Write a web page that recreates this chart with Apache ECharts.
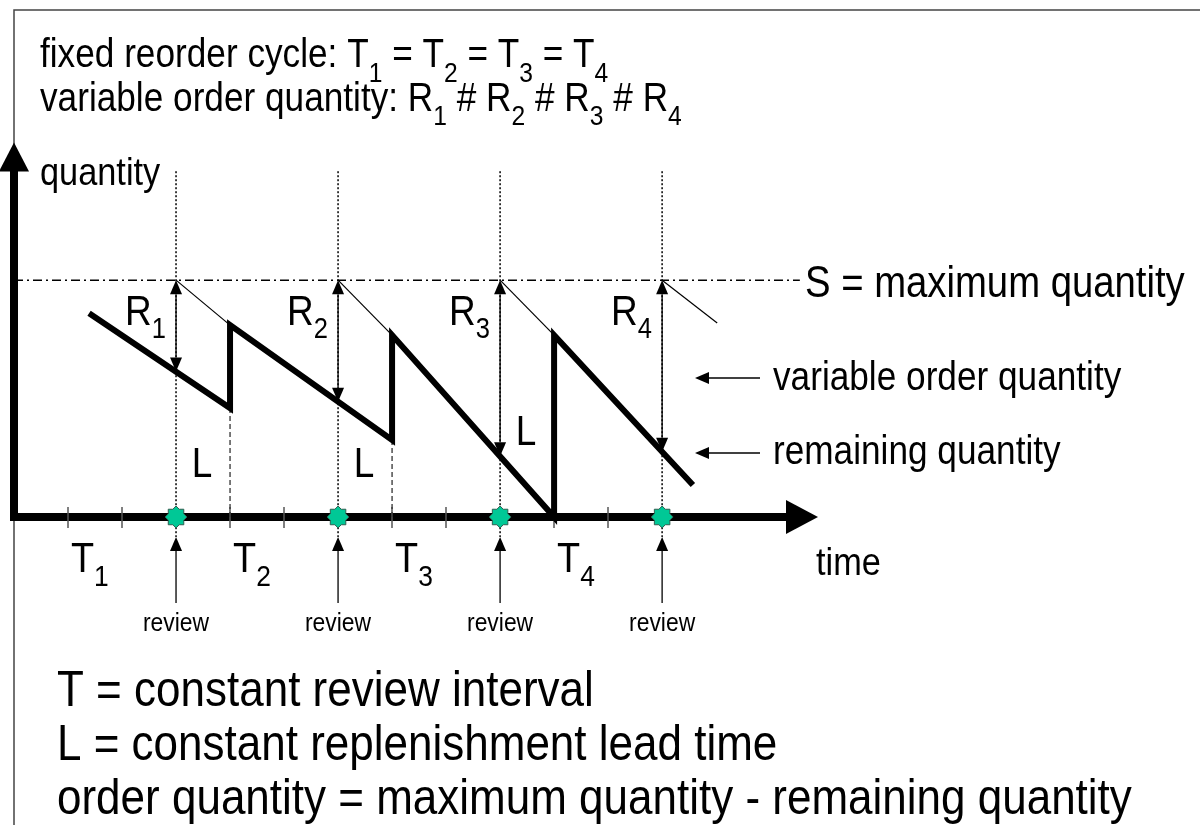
<!DOCTYPE html>
<html>
<head>
<meta charset="utf-8">
<title>fixed reorder cycle</title>
<script src="https://cdn.jsdelivr.net/npm/echarts@6/dist/echarts.min.js"></script>
<style>
  html, body { margin: 0; padding: 0; background: #fff; }
  #main { width: 1200px; height: 825px; }
</style>
</head>
<body>
<div id="main"></div>
<script>
// time axis: one unit = one tick
const tickTimes = [1, 2, 4, 5, 7, 8, 10, 11];
const reviewTimes = [3, 6, 9, 12];
const arrivalTimes = [4, 7];
const arrivalLevel = [46, 32.5];          // stock just before delivery
const maxQty = 100;                       // S
const stockTimes = [1.39, 4, 4, 7, 7, 10, 10, 12.57];
const stockQty = [86, 46, 81, 32.5, 76.8, 0, 76.8, 13.5];
const reviewLevel = [61.4, 48.7, 25.6, 27.5];   // remaining quantity at review
const projEnd = [[4, 81], [7, 76.8], [10, 76.8], [13.02, 81.9]];
const cycleNames = ['1', '2', '3', '4'];
const cycleLabelTimes = [1, 4, 7, 10];

const xMax = 14.59, yMax = 152, sLineEnd = 14.55, reviewTop = 146;
const FONT = '"Liberation Sans", Arial, sans-serif';
const SX = 0.88;
const STAR = 'path://M10 0L12.91 2.98L17.07 2.93L17.02 7.09L20 10L17.02 12.91L17.07 17.07L12.91 17.02L10 20L7.09 17.02L2.93 17.07L2.98 12.91L0 10L2.98 7.09L2.93 2.93L7.09 2.98Z';

var chart = echarts.init(document.getElementById('main'));

function axisBase(extra) {
  return Object.assign({
    type: 'value', min: 0, interval: 1,
    axisLabel: { show: false }, splitLine: { show: false }
  }, extra);
}

var option = {
  animation: false,
  backgroundColor: '#fff',
  grid: { left: 14, top: 157, width: 788, height: 360 },
  xAxis: [
    axisBase({
      max: xMax, position: 'bottom',
      axisLine: { show: true, onZero: false, symbol: ['none', 'triangle'], symbolSize: [34, 32],
        lineStyle: { color: '#000', width: 8, cap: 'square' } },
      axisTick: { show: true, customValues: tickTimes, length: 11, lineStyle: { color: '#555', width: 1.5 } }
    }),
    axisBase({
      max: xMax, position: 'bottom',
      axisLine: { show: false, onZero: false },
      axisTick: { show: true, inside: true, customValues: tickTimes, length: 10, lineStyle: { color: '#555', width: 1.5 } }
    })
  ],
  yAxis: axisBase({
    max: yMax, interval: 50,
    axisLine: { show: true, onZero: false, symbol: ['none', 'triangle'], symbolSize: [30, 29],
      lineStyle: { color: '#000', width: 8, cap: 'square' } },
    axisTick: { show: false }
  }),
  series: [
    {
      // S = maximum quantity
      type: 'line', data: [[0, maxQty], [sLineEnd, maxQty]], symbol: 'none', clip: false, silent: true, z: 2,
      lineStyle: { color: '#000', width: 1.5, type: [9, 4, 2, 4] }
    },
    {
      // dashed lines at deliveries
      type: 'custom', data: arrivalTimes.map((t, i) => [t, arrivalLevel[i]]), silent: true, z: 2,
      renderItem: function (params, api) {
        const p = api.coord([api.value(0), api.value(1)]);
        const b = api.coord([api.value(0), 0]);
        return { type: 'line', shape: { x1: p[0], y1: p[1], x2: b[0], y2: b[1] },
          style: { stroke: '#333', lineWidth: 1.3, lineDash: [5, 3] } };
      }
    },
    {
      // thin lines S -> delivery
      type: 'lines', coordinateSystem: 'cartesian2d', silent: true, z: 3,
      data: reviewTimes.map((t, i) => ({ coords: [[t, maxQty], projEnd[i]] })),
      lineStyle: { color: '#000', width: 1.2, opacity: 1 }
    },
    {
      // stock level
      type: 'line', data: stockTimes.map((t, i) => [t, stockQty[i]]), symbol: 'none', clip: false, silent: true, z: 5,
      lineStyle: { color: '#000', width: 6, join: 'miter' }
    },
    {
      // review lines, R arrows, review arrows
      type: 'custom', data: reviewTimes.map((t, i) => [t, maxQty, reviewLevel[i]]),
      encode: { x: 0, y: [1, 2] }, silent: true, z: 6,
      renderItem: function (params, api) {
        const s = api.coord([api.value(0), api.value(1)]);
        const r = api.coord([api.value(0), api.value(2)]);
        const top = api.coord([api.value(0), reviewTop]);
        const b = api.coord([api.value(0), 0]);
        const x = s[0], h = 14, w = 12;
        return { type: 'group', children: [
          { type: 'line', shape: { x1: x, y1: top[1], x2: x, y2: b[1] + 20 },
            style: { stroke: '#000', lineWidth: 1.5, lineDash: [2, 2] } },
          { type: 'line', shape: { x1: x, y1: s[1] + h, x2: x, y2: r[1] - h },
            style: { stroke: '#000', lineWidth: 1.3 } },
          { type: 'polygon', shape: { points: [[x, s[1]], [x - w / 2, s[1] + h], [x + w / 2, s[1] + h]] },
            style: { fill: '#000' } },
          { type: 'polygon', shape: { points: [[x, r[1]], [x - w / 2, r[1] - h], [x + w / 2, r[1] - h]] },
            style: { fill: '#000' } },
          { type: 'line', shape: { x1: x, y1: b[1] + 33, x2: x, y2: b[1] + 86 },
            style: { stroke: '#000', lineWidth: 1.3 } },
          { type: 'polygon', shape: { points: [[x, b[1] + 20], [x - w / 2, b[1] + 34], [x + w / 2, b[1] + 34]] },
            style: { fill: '#000' } }
        ] };
      }
    },
    {
      // review points
      type: 'scatter', data: reviewTimes.map(t => [t, 0]), symbol: STAR, symbolSize: 22, clip: false, silent: true, z: 10,
      itemStyle: { color: '#00c896', borderColor: '#2f5f50', borderWidth: 1, opacity: 1 }
    }
  ]
};
chart.setOption(option);

// text with optional {s|..} subscripts, placed by baseline
function label(x, baseline, text, size, align, drop) {
  const sub = Math.round(size * 0.7);
  const pad = Math.round(2 * ((drop || 0.3) * size + 0.347 * (size - sub)));
  return {
    type: 'text', x: x, y: baseline - 0.347 * size, scaleX: SX, z: 50, silent: true,
    style: {
      text: text, fill: '#000', fontSize: size, fontFamily: FONT, lineHeight: 100,
      textAlign: align || 'left', align: align || 'left',
      textVerticalAlign: 'middle', verticalAlign: 'middle',
      rich: { s: { fontSize: sub, fontFamily: FONT, fill: '#000', lineHeight: 100 - pad, padding: [pad, 0, 0, 0] } }
    }
  };
}

function px(t, q) {
  return chart.convertToPixel({ xAxisIndex: 0, yAxisIndex: 0 }, [t, q]);
}

function leftArrow(x1, x2, y) {
  return { type: 'group', silent: true, z: 40, children: [
    { type: 'line', shape: { x1: x1, y1: y, x2: x2 + 13, y2: y }, style: { stroke: '#000', lineWidth: 1.3 } },
    { type: 'polygon', shape: { points: [[x2, y], [x2 + 14, y - 6], [x2 + 14, y + 6]] }, style: { fill: '#000' } }
  ] };
}

const graphics = [
  { type: 'polyline', silent: true, z: -1, shape: { points: [[1200, 10], [14, 10], [14, 825]] },
    style: { stroke: '#444', lineWidth: 1.5, fill: null } },
  label(40, 70, 'fixed reorder cycle: T{s|1} = T{s|2} = T{s|3} = T{s|4}', 40, 'left', 0.36),
  label(40, 114, 'variable order quantity: R{s|1} # R{s|2} # R{s|3} # R{s|4}', 40, 'left', 0.33),
  label(40, 188, 'quantity', 39),
  label(805, 300, 'S = maximum quantity', 43.5),
  label(773, 393, 'variable order quantity', 40),
  label(773, 467, 'remaining quantity', 40),
  label(816, 578, 'time', 39),
  leftArrow(760, 695, 378),
  leftArrow(760, 695, 453),
  label(57, 710, 'T = constant review interval', 50),
  label(57, 764, 'L = constant replenishment lead time', 50),
  label(57, 818, 'order quantity = maximum quantity - remaining quantity', 50)
];

reviewTimes.forEach(function (t, i) {
  const s = px(t, maxQty);
  graphics.push(label(s[0] - 51, 328, 'R{s|' + cycleNames[i] + '}', 42));
  graphics.push(label(s[0], 633, 'review', 26, 'center'));
  if (i < 3) graphics.push(label(s[0] + 26, i < 2 ? 480 : 448, 'L', 42, 'center'));
});
cycleLabelTimes.forEach(function (t, i) {
  const p = px(t, 0);
  graphics.push(label(p[0] + 3, 575, 'T{s|' + cycleNames[i] + '}', 43));
});

chart.setOption({ graphic: graphics });
</script>
</body>
</html>
